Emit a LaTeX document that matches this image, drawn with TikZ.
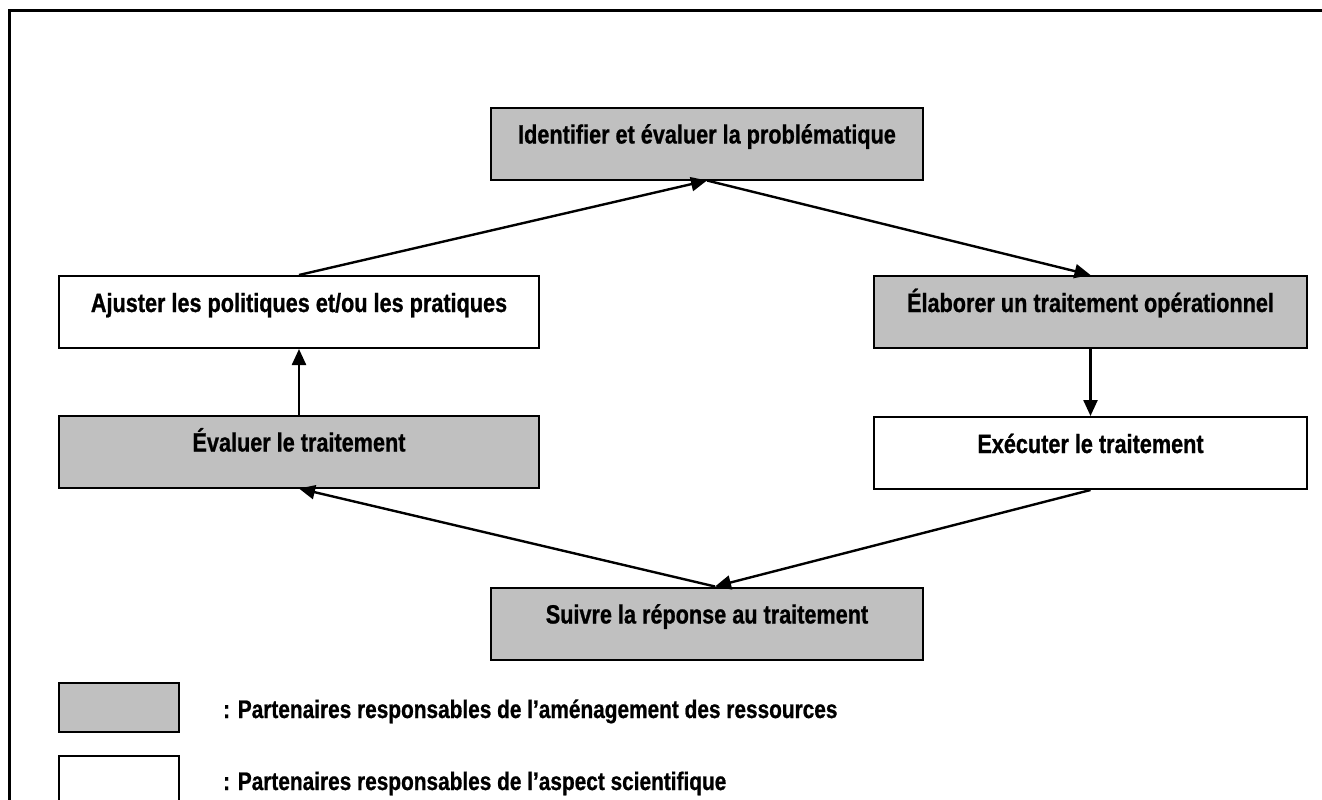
\documentclass[tikz,border=0pt]{standalone}
\usepackage{fontspec}
\setmainfont{Liberation Sans}[FakeStretch=0.82, BoldFeatures={FakeStretch=0.82, FakeBold=0.8}]
\usetikzlibrary{arrows.meta}
\definecolor{boxgray}{RGB}{192,192,192}
\begin{document}
\begin{tikzpicture}[x=1pt,y=-1pt,
  box/.style={draw=black, line width=2pt, inner sep=0pt, text height=36pt, text depth=36pt,
              font=\fontsize{26.4}{30}\selectfont\bfseries},
  gbox/.style={box, fill=boxgray},
  wbox/.style={box, fill=white},
  legbox/.style={draw=black, line width=2pt, inner sep=0pt, minimum width=120pt},
  arr/.style={line width=2.4pt, -{Triangle[length=16pt,width=14pt]}},
  legtxt/.style={anchor=base west, inner sep=0pt, font=\fontsize{25.4}{29}\selectfont\bfseries}]
\useasboundingbox (0,0) rectangle (1322,800);
\clip (0,0) rectangle (1322,800);
% outer frame
\draw[line width=2.6pt] (9.5,830) -- (9.5,10.5) -- (1350,10.5);
% boxes
\node[gbox, minimum width=432pt] (ident) at (707,143.5) {Identifier et évaluer la problématique};
\node[wbox, minimum width=480pt] (ajust) at (299,312) {Ajuster les politiques et/ou les pratiques};
\node[gbox, minimum width=433pt] (elab) at (1090.5,312) {Élaborer un traitement opérationnel};
\node[gbox, minimum width=480pt] (eval) at (299,451.5) {Évaluer le traitement};
\node[wbox, minimum width=433pt] (exec) at (1090.5,453) {Exécuter le traitement};
\node[gbox, minimum width=432pt] (suivre) at (707,623.5) {Suivre la réponse au traitement};
% connectors
\draw[arr] (ajust.north) -- (ident.south);
\draw[arr] (ident.south) -- (elab.north);
\draw[arr] (elab.south) -- (exec.north);
\draw[arr] (exec.south) -- ([xshift=8pt]suivre.north);
\draw[arr] ([xshift=8pt]suivre.north) -- (eval.south);
\draw[arr] (eval.north) -- (ajust.south);
% legend
\node[legbox, fill=boxgray, minimum height=49pt] (leg1) at (119,707.5) {};
\node[legbox, fill=white, minimum height=50pt] (leg2) at (119,781) {};
\node[legtxt] (leg1t) at (223,718) {: Partenaires responsables de l’aménagement des ressources};
\node[legtxt] (leg2t) at (223,790) {: Partenaires responsables de l’aspect scientifique};
\end{tikzpicture}
\end{document}
